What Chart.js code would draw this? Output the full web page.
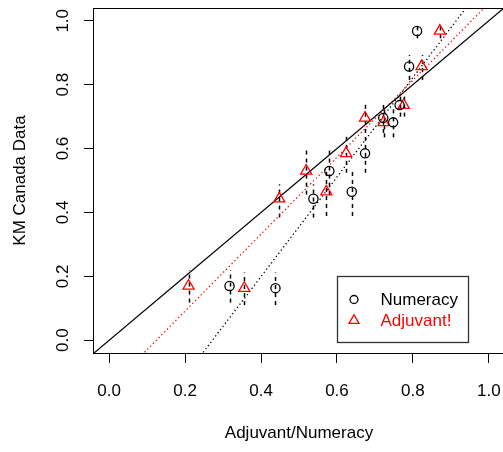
<!DOCTYPE html>
<html>
<head>
<meta charset="utf-8">
<script src="https://cdn.jsdelivr.net/npm/chart.js@4/dist/chart.umd.min.js"></script>
<style>
  html, body { margin: 0; padding: 0; background: #fff; overflow: hidden; }
  #chart { display: block; }
</style>
</head>
<body>
<canvas id="chart" width="505" height="452"></canvas>
<script>
// -- DATA --
const kmCanada = [0.170, 0.163, 0.443, 0.530, 0.465, 0.585, 0.696, 0.682, 0.736, 0.857, 0.968];
const kmLower  = [0.118, 0.110, 0.384, 0.456, 0.389, 0.524, 0.649, 0.635, 0.700, 0.815, 0.945];
const kmUpper  = [0.220, 0.212, 0.488, 0.602, 0.537, 0.643, 0.742, 0.725, 0.768, 0.893, 0.987];
const numeracy = [0.317, 0.438, 0.538, 0.580, 0.639, 0.674, 0.722, 0.748, 0.765, 0.790, 0.811];
const adjuvant = [0.209, 0.356, 0.448, 0.519, 0.572, 0.624, 0.674, 0.723, 0.776, 0.823, 0.871];

// reference lines, value at the left and right edge of the frame
const lineEdgesX   = [-0.04, 1.04];
const identityY    = [-0.04, 1.04];
const adjuvantFitY = [-0.198, 1.103];
const numeracyFitY = [-0.486, 1.196];

const xTicks = [0.0, 0.2, 0.4, 0.6, 0.8, 1.0];
const yTicks = [0.0, 0.2, 0.4, 0.6, 0.8, 1.0];
const legendAt = [0.6, 0.2];

const FONT = 'Liberation Sans, Arial, Helvetica, sans-serif';
const RED = '#ff0000';

function pairs(xs, ys) {
    return xs.map((x, i) => ({ x: x, y: ys[i] }));
}

// dashed vertical error bars, drawn through the scales
const errorBars = {
    id: 'errorBars',
    beforeDatasetsDraw(chart) {
        const { ctx, chartArea, scales } = chart;
        ctx.save();
        ctx.beginPath();
        ctx.rect(chartArea.left, chartArea.top, chartArea.width, chartArea.height);
        ctx.clip();
        ctx.strokeStyle = '#000';
        ctx.lineWidth = 1.5;
        ctx.setLineDash([4, 4]);
        chart.data.datasets.forEach(ds => {
            if (!ds.errLow) return;
            ds.data.forEach((p, i) => {
                const px = Math.round(scales.x.getPixelForValue(p.x)) + 0.5;
                ctx.beginPath();
                ctx.moveTo(px, scales.y.getPixelForValue(ds.errLow[i]));
                ctx.lineTo(px, scales.y.getPixelForValue(ds.errHigh[i]));
                ctx.stroke();
            });
        });
        ctx.restore();
    }
};

// R style box round the plot region
const frame = {
    id: 'frame',
    afterDatasetsDraw(chart) {
        const { ctx, chartArea: a } = chart;
        ctx.save();
        ctx.strokeStyle = '#000';
        ctx.lineWidth = 1;
        ctx.strokeRect(Math.round(a.left) - 0.5, Math.round(a.top) + 0.5,
                       Math.round(a.width) + 1, Math.round(a.height));
        ctx.restore();
    }
};

// boxed legend placed at data coordinates, like legend(0.6, 0.2, ...)
const boxLegend = {
    id: 'boxLegend',
    afterDraw(chart) {
        const { ctx, scales } = chart;
        const x0 = Math.round(scales.x.getPixelForValue(legendAt[0])) + 0.5;
        const y0 = Math.round(scales.y.getPixelForValue(legendAt[1])) + 0.5;
        const w = 131, h = 66;
        ctx.save();
        ctx.fillStyle = '#fff';
        ctx.fillRect(x0, y0, w, h);
        ctx.strokeStyle = '#333';
        ctx.lineWidth = 1.3;
        ctx.strokeRect(x0, y0, w, h);
        ctx.font = '17px ' + FONT;
        ctx.textBaseline = 'middle';
        const rows = chart.data.datasets.filter(ds => ds.inLegend);
        rows.forEach((ds, i) => {
            const cy = y0 + 23 + i * 21;
            ctx.strokeStyle = ds.borderColor;
            ctx.fillStyle = 'rgba(0,0,0,0)';
            ctx.lineWidth = 1.3;
            Chart.helpers.drawPoint(ctx, {
                pointStyle: ds.pointStyle,
                radius: ds.pointStyle === 'triangle' ? 5.8 : 4,
                rotation: 0,
                borderWidth: 1.3
            }, x0 + 16.5, cy);
            ctx.fillStyle = ds.borderColor;
            ctx.fillText(ds.label, x0 + 43, cy + 1);
        });
        ctx.restore();
    }
};

function tickScale(values) {
    return (scale) => { scale.ticks = values.map(v => ({ value: v })); };
}

// fixed axis sizes, no extra room for overhanging tick labels
function fixSize(width, height) {
    return (s) => {
        if (width !== null) s.width = width;
        if (height !== null) s.height = height;
        s.paddingLeft = 0; s.paddingRight = 0;
        s.paddingTop = 0; s.paddingBottom = 0;
    };
}

const pointBase = {
    backgroundColor: 'rgba(0,0,0,0)',
    pointBorderWidth: 1.3,
    showLine: false,
    inLegend: true
};

const lineBase = {
    showLine: true,
    pointRadius: 0,
    borderWidth: 1.3,
    fill: false
};

new Chart(document.getElementById('chart'), {
    type: 'scatter',
    data: {
        datasets: [
            { ...pointBase, label: 'Numeracy', data: pairs(numeracy, kmCanada),
              pointStyle: 'circle', pointRadius: 4.6, borderColor: '#000',
              errLow: kmLower, errHigh: kmUpper },
            { ...pointBase, label: 'Adjuvant!', data: pairs(adjuvant, kmCanada),
              pointStyle: 'triangle', pointRadius: 6.4, borderColor: RED,
              errLow: kmLower, errHigh: kmUpper },
            { ...lineBase, label: 'identity', data: pairs(lineEdgesX, identityY),
              borderColor: '#000' },
            { ...lineBase, label: 'adjuvant fit', data: pairs(lineEdgesX, adjuvantFitY),
              borderColor: RED, borderDash: [1.3, 2.7] },
            { ...lineBase, label: 'numeracy fit', data: pairs(lineEdgesX, numeracyFitY),
              borderColor: '#000', borderDash: [1.3, 2.7] }
        ]
    },
    options: {
        responsive: false,
        animation: false,
        events: [],
        layout: { autoPadding: false, padding: { top: 8, right: 1, left: 0, bottom: 0 } },
        plugins: { legend: { display: false }, tooltip: { enabled: false } },
        scales: {
            x: {
                type: 'linear', position: 'bottom', min: -0.04, max: 1.04,
                afterBuildTicks: tickScale(xTicks),
                afterFit: fixSize(null, 99),
                grid: { drawOnChartArea: false, drawTicks: true, tickLength: 10, tickColor: '#000', tickWidth: 1 },
                border: { display: false },
                ticks: { color: '#000', font: { family: FONT, size: 17 }, padding: 18,
                         maxRotation: 0, minRotation: 0, autoSkip: false,
                         callback: v => v.toFixed(1) },
                title: { display: true, text: 'Adjuvant/Numeracy', color: '#000',
                         font: { family: FONT, size: 17 }, padding: { top: 0, bottom: 8 } }
            },
            y: {
                type: 'linear', position: 'left', min: -0.04, max: 1.04,
                afterBuildTicks: tickScale(yTicks),
                afterFit: fixSize(94, null),
                grid: { drawOnChartArea: false, drawTicks: true, tickLength: 10, tickColor: '#000', tickWidth: 1 },
                border: { display: false },
                ticks: { color: '#000', font: { family: FONT, size: 17 }, padding: 9,
                         minRotation: 90, maxRotation: 90, crossAlign: 'center', autoSkip: false,
                         callback: v => v.toFixed(1) },
                title: { display: true, text: 'KM Canada Data', color: '#000',
                         font: { family: FONT, size: 17 }, padding: { top: 10, bottom: 0 } }
            }
        }
    },
    plugins: [errorBars, frame, boxLegend]
});
</script>
</body>
</html>
